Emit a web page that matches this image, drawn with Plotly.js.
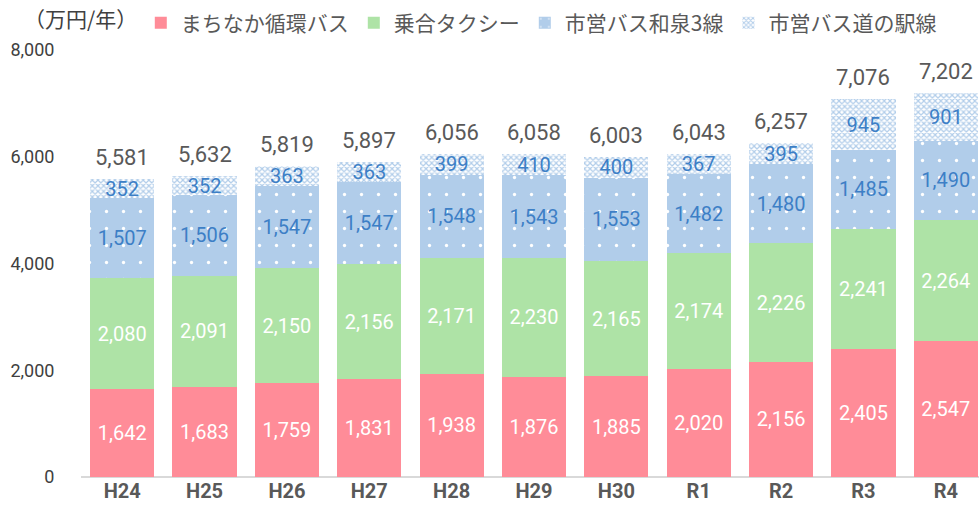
<!DOCTYPE html>
<html><head><meta charset="utf-8">
<script src="https://cdn.plot.ly/plotly-3.0.1.min.js"></script>
<style>html,body{margin:0;padding:0;overflow:hidden;background:#fff}#c{width:987px;height:517px}</style>
</head><body><div id="c"></div>
<script>
const categories = ['H24','H25','H26','H27','H28','H29','H30','R1','R2','R3','R4'];
const seriesNames = ['まちなか循環バス','乗合タクシー','市営バス和泉3線','市営バス道の駅線'];
const machinaka = [1642,1683,1759,1831,1938,1876,1885,2020,2156,2405,2547];
const noriai    = [2080,2091,2150,2156,2171,2230,2165,2174,2226,2241,2264];
const izumi3    = [1507,1506,1547,1547,1548,1543,1553,1482,1480,1485,1490];
const michinoeki= [352,352,363,363,399,410,400,367,395,945,901];
const totals    = [5581,5632,5819,5897,6056,6058,6003,6043,6257,7076,7202];
const yTicks = [0,2000,4000,6000,8000];

const fmt = v => v.toLocaleString('en-US');
const FONT = 'Roboto, "Noto Sans CJK JP", sans-serif';
const JP = '"Noto Sans CJK JP", Roboto, sans-serif';

function bar(name, vals, color, textColor, pattern){
  const t = {
    type:'bar', name:name, x:categories, y:vals,
    text: vals.map(fmt), textposition:'inside', insidetextanchor:'middle',
    textfont:{family:FONT, size:20, color:textColor},
    marker:{color:color, line:{width:0}},
    hoverinfo:'x+y+name', constraintext:'none'
  };
  if(pattern) t.marker.pattern = pattern;
  return t;
}

const data = [
  bar(seriesNames[0], machinaka, '#ff8c98', '#ffffff'),
  bar(seriesNames[1], noriai, '#aee3a6', '#ffffff'),
  bar(seriesNames[2], izumi3, '#b1cdea', '#3d7fc6', {shape:'.', fgcolor:'#ffffff', bgcolor:'#b1cdea', size:17, solidity:0.03, fillmode:'replace'}),
  bar(seriesNames[3], michinoeki, '#ffffff', '#3d7fc6', {shape:'x', fgcolor:'#b1cdea', bgcolor:'#ffffff', size:4, solidity:0.5, fillmode:'replace'})
];

const annotations = categories.map((c,i)=>({
  x:c, y:totals[i], xref:'x', yref:'y', text:fmt(totals[i]), showarrow:false,
  yanchor:'bottom', yshift:7, font:{family:FONT, size:22, color:'#595959'}
}));
annotations.push({xref:'paper', yref:'paper', x:-0.065, y:1.075, xanchor:'left', yanchor:'middle',
    text:'（万円/年）', showarrow:false, font:{family:JP, size:21, color:'#404040'}});

const layout = {
  width:987, height:517,
  margin:{l:81, r:0, t:50, b:40, autoexpand:false},
  barmode:'stack', bargap:0.22,
  paper_bgcolor:'#fff', plot_bgcolor:'#fff',
  font:{family:FONT, color:'#595959'},
  showlegend:true,
  legend:{orientation:'h', x:0.066, y:1.063, xanchor:'left', yanchor:'middle',
    traceorder:'normal', font:{family:JP, size:21, color:'#595959'},
    itemwidth:30, tracegroupgap:0, bgcolor:'rgba(0,0,0,0)'},
  xaxis:{type:'category', showgrid:false, zeroline:false, showline:false,
    tickfont:{family:FONT, size:20, color:'#595959', weight:'bold'}, ticks:'', fixedrange:true},
  yaxis:{range:[0,8000], tickvals:yTicks, ticktext:yTicks.map(fmt), showgrid:false,
    zeroline:true, zerolinecolor:'#d9d9d9', zerolinewidth:1.5, showline:false,
    ticks:'outside', ticklen:22, tickcolor:'rgba(0,0,0,0)',
    tickfont:{family:FONT, size:18, color:'#404040'}, fixedrange:true},
  annotations:annotations
};
Plotly.newPlot('c', data, layout, {displayModeBar:false, staticPlot:true});
</script></body></html>
